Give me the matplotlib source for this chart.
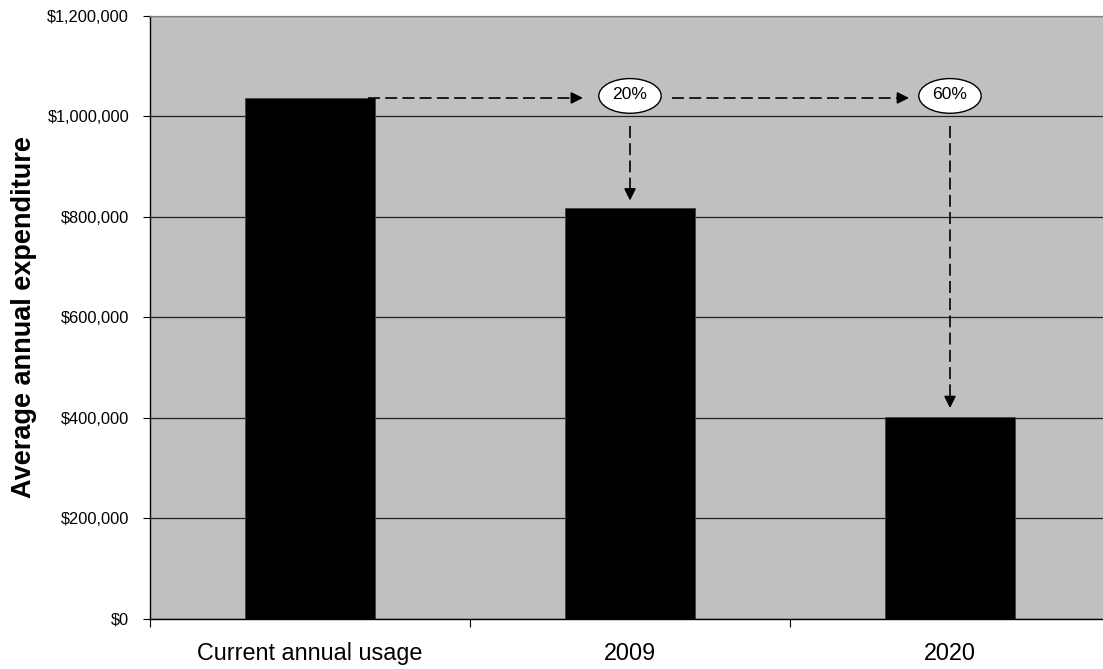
import matplotlib
matplotlib.use("Agg")
import matplotlib.pyplot as plt
from matplotlib.patches import Ellipse
from matplotlib.ticker import FuncFormatter, FixedLocator

plt.rcParams['font.family'] = ['Liberation Sans', 'DejaVu Sans']

categories = ["Current annual usage", "2009", "2020"]
expenditure = [1036000, 817000, 401000]
reduction_labels = ["20%", "60%"]
yticks = [0, 200000, 400000, 600000, 800000, 1000000, 1200000]

W, H, DPI = 1103, 669, 100
fig = plt.figure(figsize=(W / DPI, H / DPI), dpi=DPI)
ax = fig.add_axes([150 / W, 1 - 618.7 / H, 960 / W, (618.7 - 15.5) / H])
ax.set_facecolor("#C0C0C0")

x = list(range(len(categories)))
ax.bar(x, expenditure, width=0.405, color="black", edgecolor="#404040",
       linewidth=0.6, zorder=3)

ax.set_xlim(-0.5, 2.5)
ax.set_ylim(0, 1200000)
ax.set_yticks(yticks)
ax.yaxis.set_major_formatter(FuncFormatter(lambda v, p: f"${v:,.0f}"))
ax.grid(axis="y", color="#202020", linewidth=0.9, zorder=1)
ax.set_axisbelow(True)

ax.set_xticks(x)
ax.set_xticklabels(categories, fontsize=16.8)
ax.tick_params(axis="x", which="major", length=0, pad=17)
ax.xaxis.set_minor_locator(FixedLocator([-0.5, 0.5, 1.5, 2.5]))
ax.tick_params(axis="x", which="minor", length=6, width=0.8, direction="out")
ax.tick_params(axis="y", length=5, width=0.8, labelsize=11.8, pad=10)

ax.set_ylabel("Average annual expenditure", fontsize=19.5, fontweight="bold",
              labelpad=0)
ax.yaxis.set_label_coords(-113 / 960, 0.5)

for side in ["top", "right"]:
    ax.spines[side].set_color("#808080")
    ax.spines[side].set_linewidth(0.9)
ax.spines["left"].set_linewidth(1.0)
ax.spines["bottom"].set_linewidth(1.0)

lw = 1.2
dash = [8.6 / lw, 3.8 / lw]
base = expenditure[0]


def dashed_arrow(x0, y0, x1, y1, head_dx, head_dy):
    # dashed shaft up to the base of a solid triangular head
    ax.plot([x0, x1 - head_dx], [y0, y1 - head_dy], color="black", lw=lw,
            dashes=dash, zorder=5, solid_capstyle="butt")
    ax.annotate("", xy=(x1, y1), xytext=(x1 - head_dx, y1 - head_dy),
                arrowprops=dict(arrowstyle="-|>,head_length=0.5,head_width=0.25",
                                color="black", lw=lw, shrinkA=0, shrinkB=0,
                                mutation_scale=14),
                zorder=5)


hx = 0.03
hy = 16000
# horizontal arrows along the current expenditure level
dashed_arrow(0.18, base, 0.853, base, hx, 0)
dashed_arrow(1.131, base, 1.872, base, hx, 0)
# vertical arrows down to the targets
dashed_arrow(1.0, 981000, 1.0, 832000, 0, -hy)
dashed_arrow(2.0, 981000, 2.0, 419000, 0, -hy)

# reduction bubbles
for xc, lab in zip([1.0, 2.0], reduction_labels):
    ax.add_patch(Ellipse((xc, 1040000), width=0.195, height=69000,
                         facecolor="white", edgecolor="black", lw=1.0, zorder=6))
    ax.text(xc, 1043000, lab, ha="center", va="center", fontsize=12.6, zorder=7)

fig.savefig("out.png", dpi=DPI)
